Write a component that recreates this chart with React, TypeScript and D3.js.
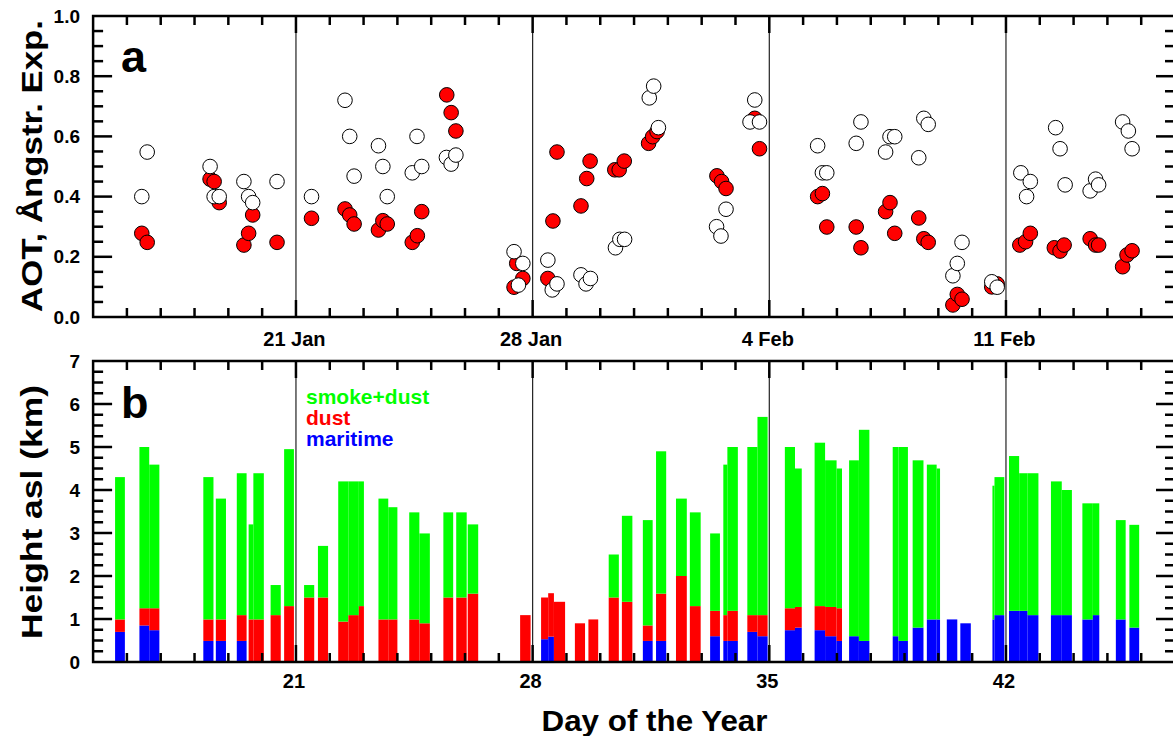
import React from "react";
import * as d3 from "d3";

// ---- Panel a: AOT (red filled) and Angstrom exponent (open) ----
const aotDays = [16.44,16.6,18.46,18.58,18.73,19.46,19.6,19.72,20.44,21.46,22.45,22.59,22.72,23.44,23.57,23.7,24.44,24.59,24.72,25.46,25.59,25.73,27.45,27.53,27.71,28.45,28.6,28.72,29.43,29.6,29.7,30.43,30.56,30.71,31.43,31.55,31.68,33.45,33.59,33.72,34.57,34.71,36.43,36.57,36.7,37.57,37.71,38.44,38.57,38.71,39.42,39.57,39.7,40.43,40.56,40.7,41.58,41.74,42.41,42.58,42.72,43.43,43.6,43.72,44.49,44.65,44.74,45.45,45.58,45.73];
const aotValues = [0.278,0.248,0.458,0.45,0.38,0.239,0.278,0.339,0.248,0.328,0.359,0.339,0.309,0.289,0.32,0.309,0.248,0.27,0.35,0.738,0.679,0.618,0.099,0.178,0.128,0.128,0.319,0.548,0.369,0.46,0.518,0.489,0.489,0.518,0.577,0.599,0.616,0.469,0.45,0.427,0.66,0.559,0.4,0.41,0.299,0.299,0.23,0.35,0.38,0.278,0.329,0.26,0.248,0.04,0.075,0.059,0.1,0.11,0.239,0.25,0.278,0.23,0.219,0.239,0.26,0.239,0.239,0.167,0.206,0.22];
const angDays = [16.44,16.6,18.46,18.58,18.73,19.46,19.6,19.72,20.44,21.46,22.45,22.59,22.72,23.44,23.57,23.7,24.44,24.58,24.72,25.45,25.59,25.73,27.45,27.58,27.71,28.45,28.58,28.72,29.43,29.58,29.71,30.45,30.58,30.72,31.45,31.58,31.72,33.44,33.57,33.72,34.43,34.57,34.71,36.43,36.57,36.7,37.57,37.71,38.44,38.57,38.71,39.42,39.57,39.7,40.43,40.56,40.7,41.58,41.74,42.44,42.61,42.72,43.47,43.6,43.75,44.49,44.65,44.74,45.45,45.62,45.73];
const angValues = [0.4,0.548,0.5,0.4,0.4,0.45,0.4,0.38,0.45,0.4,0.72,0.6,0.468,0.569,0.5,0.4,0.479,0.6,0.5,0.53,0.508,0.538,0.217,0.106,0.178,0.189,0.09,0.11,0.14,0.11,0.128,0.23,0.258,0.258,0.728,0.767,0.629,0.3,0.269,0.358,0.648,0.721,0.648,0.569,0.479,0.479,0.577,0.648,0.548,0.599,0.599,0.529,0.66,0.64,0.137,0.178,0.248,0.117,0.099,0.479,0.4,0.45,0.629,0.559,0.439,0.419,0.458,0.439,0.648,0.618,0.559];

// ---- Panel b: layer heights (km) per lidar profile interval ----
const barStart = [15.65,16.37,16.66,18.26,18.63,19.25,19.6,19.74,20.25,20.65,21.24,21.65,22.25,22.55,22.86,23.44,23.73,24.35,24.65,25.36,25.74,26.08,27.63,28.25,28.46,28.63,29.25,29.65,30.25,30.64,31.26,31.65,32.24,32.65,33.25,33.64,33.76,34.35,34.65,35.46,35.76,36.34,36.65,36.99,37.36,37.65,38.65,38.82,39.24,39.66,39.95,40.25,40.65,41.6,41.66,42.09,42.39,42.64,43.33,43.65,44.26,44.57,45.25,45.65];
const barEnd = [15.94,16.66,16.96,18.56,18.93,19.54,19.74,20.05,20.55,20.94,21.54,21.95,22.55,22.86,23.01,23.73,24.0,24.65,24.96,25.65,26.05,26.39,27.94,28.46,28.63,28.96,29.55,29.94,30.55,30.95,31.55,31.95,32.56,32.97,33.54,33.76,34.07,34.65,34.95,35.76,35.96,36.65,36.99,37.15,37.65,37.96,38.82,39.1,39.56,39.95,40.05,40.56,40.96,41.66,41.95,42.39,42.64,42.96,43.65,43.95,44.57,44.76,45.54,45.94];
const maritimeTop = [0.7,0.85,0.74,0.49,0.49,0.49,0,0,0,0,0,0,0,0,0,0,0,0,0,0,0,0,0,0.53,0.59,0,0,0,0,0,0.49,0.49,0,0,0.6,0.49,0.49,0.7,0.6,0.74,0.8,0.74,0.6,0.49,0.6,0.49,0.6,0.49,0.8,0.99,0.99,0.99,0.9,0.99,1.09,1.19,1.19,1.09,1.09,1.09,0.99,1.09,0.99,0.8];
const dustTop = [0.99,1.25,1.25,0.99,0.99,1.09,0.99,0.99,1.09,1.3,1.5,1.5,0.94,1.09,1.3,0.99,0.99,0.99,0.9,1.5,1.5,1.59,1.09,1.5,1.6,1.4,0.9,0.99,1.5,1.4,0.85,1.59,2.0,1.3,1.19,1.09,1.19,1.09,1.09,1.25,1.28,1.3,1.28,1.25,0.6,0.49,0.6,0.49,0.8,0.99,0.99,0.99,0.9,0.99,1.09,1.19,1.19,1.09,1.09,1.09,0.99,1.09,0.99,0.8];
const layerTop = [4.3,5.0,4.59,4.3,3.8,4.39,3.2,4.39,1.79,4.95,1.79,2.7,4.2,4.2,4.2,3.8,3.6,3.48,2.99,3.48,3.48,3.2,1.09,1.5,1.6,1.4,0.9,0.99,2.5,3.4,3.3,4.9,3.8,3.48,2.99,4.59,5.0,5.0,5.7,5.0,4.5,5.1,4.69,4.5,4.69,5.4,5.0,5.0,4.69,4.59,4.5,0.99,0.9,4.1,4.3,4.79,4.39,4.39,4.2,4.0,3.69,3.69,3.3,3.19];

const topTickDays = [21, 28, 35, 42];
const topTickLabels = ["21 Jan", "28 Jan", "4 Feb", "11 Feb"];
const bottomTickLabels = ["21", "28", "35", "42"];
const aotTicks = [0, 0.2, 0.4, 0.6, 0.8, 1.0];
const heightTicks = [0, 1, 2, 3, 4, 5, 6, 7];
const legendLabels = ["smoke+dust", "dust", "maritime"];
const legendColors = ["#00ff00", "#ff0000", "#0000ff"];

const W = 1173, H = 736;
const X0 = 93.1, X1 = 93.1 + 32 * 33.81;
const A_TOP = 16, A_BOT = 317;
const B_TOP = 361, B_BOT = 662;
const FONT = "'Liberation Sans', Arial, Helvetica, sans-serif";

export default function App() {
  const x = d3.scaleLinear().domain([15, 47]).range([X0, X1]);
  const ya = d3.scaleLinear().domain([0, 1]).range([A_BOT, A_TOP]);
  const yb = d3.scaleLinear().domain([0, 7]).range([B_BOT, B_TOP]);

  const dayTicks = d3.range(16, 47);
  const aMinor = d3.range(1, 20).map((i) => i * 0.05);
  const bMinor = d3.range(1, 28).map((i) => i * 0.25);

  const xTicks = (top: number, bot: number, key: string) =>
    dayTicks.map((d) => {
      const major = d % 7 === 0;
      const len = major ? 17 : 9;
      const px = x(d);
      return (
        <g key={key + d}>
          <line x1={px} x2={px} y1={top} y2={top + len} stroke="#000" strokeWidth={2.5} />
          <line x1={px} x2={px} y1={bot} y2={bot - len} stroke="#000" strokeWidth={2.5} />
        </g>
      );
    });

  const yTicks = (vals: number[], scale: any, isMajor: (v: number) => boolean, key: string) =>
    vals.map((v, i) => {
      const len = isMajor(v) ? 19 : 10;
      const py = scale(v);
      return (
        <g key={key + i}>
          <line x1={X0} x2={X0 + len} y1={py} y2={py} stroke="#000" strokeWidth={2.5} />
          <line x1={X1} x2={X1 - len} y1={py} y2={py} stroke="#000" strokeWidth={2.5} />
        </g>
      );
    });

  return (
    <div style={{ position: "absolute", left: 0, top: 0 }}>
      <svg width={W} height={H} style={{ display: "block" }} fontFamily={FONT}>
        <rect x={0} y={0} width={W} height={H} fill="#fff" />

        {/* ---------- Panel a ---------- */}
        {topTickDays.map((d) => (
          <line key={"va" + d} x1={x(d)} x2={x(d)} y1={A_TOP} y2={A_BOT} stroke="#222" strokeWidth={1.2} />
        ))}
        {aotDays.map((d, i) => (
          <circle key={"r" + i} cx={x(d)} cy={ya(aotValues[i])} r={7.3} fill="#ff0000" stroke="#000" strokeWidth={1} />
        ))}
        {angDays.map((d, i) => (
          <circle key={"w" + i} cx={x(d)} cy={ya(angValues[i])} r={7.3} fill="#fff" stroke="#000" strokeWidth={1} />
        ))}
        {xTicks(A_TOP, A_BOT, "ta")}
        {yTicks(aMinor, ya, (v) => Math.abs(v / 0.2 - Math.round(v / 0.2)) < 1e-6, "ya")}
        <rect x={X0} y={A_TOP} width={X1 - X0} height={A_BOT - A_TOP} fill="none" stroke="#000" strokeWidth={2.5} />
        {aotTicks.map((v) => (
          <text key={"al" + v} x={80} y={ya(v)} dy="0.35em" textAnchor="end" fontSize={19} fontWeight="bold">
            {v.toFixed(1)}
          </text>
        ))}
        {topTickDays.map((d, i) => (
          <text key={"tl" + d} x={x(d) - 1.5} y={346} textAnchor="middle" fontSize={20} fontWeight="bold">
            {topTickLabels[i]}
          </text>
        ))}
        <text x={121} y={72} fontSize={45} fontWeight="bold">a</text>
        <text transform="translate(42,166) rotate(-90)" textAnchor="middle" fontSize={30} fontWeight="bold"
          textLength={292} lengthAdjust="spacingAndGlyphs">
          AOT, Ångstr. Exp.
        </text>

        {/* ---------- Panel b ---------- */}
        {barStart.map((s, i) => {
          const bx = x(s);
          const bw = x(barEnd[i]) - x(s);
          return (
            <g key={"b" + i}>
              {maritimeTop[i] > 0 && (
                <rect x={bx} width={bw} y={yb(maritimeTop[i])} height={yb(0) - yb(maritimeTop[i])} fill="#0000ff" />
              )}
              {dustTop[i] > maritimeTop[i] && (
                <rect x={bx} width={bw} y={yb(dustTop[i])} height={yb(maritimeTop[i]) - yb(dustTop[i])} fill="#ff0000" />
              )}
              {layerTop[i] > dustTop[i] && (
                <rect x={bx} width={bw} y={yb(layerTop[i])} height={yb(dustTop[i]) - yb(layerTop[i])} fill="#00ff00" />
              )}
            </g>
          );
        })}
        {topTickDays.map((d) => (
          <line key={"vb" + d} x1={x(d)} x2={x(d)} y1={B_TOP} y2={B_BOT} stroke="#222" strokeWidth={1.2} />
        ))}
        {xTicks(B_TOP, B_BOT, "tb")}
        {yTicks(bMinor, yb, (v) => Math.abs(v - Math.round(v)) < 1e-6, "yb")}
        <rect x={X0} y={B_TOP} width={X1 - X0} height={B_BOT - B_TOP} fill="none" stroke="#000" strokeWidth={2.5} />
        {heightTicks.map((v) => (
          <text key={"hl" + v} x={80} y={yb(v)} dy="0.35em" textAnchor="end" fontSize={19} fontWeight="bold">
            {v}
          </text>
        ))}
        {topTickDays.map((d, i) => (
          <text key={"bl" + d} x={x(d) - 2} y={688} textAnchor="middle" fontSize={20} fontWeight="bold">
            {bottomTickLabels[i]}
          </text>
        ))}
        <text x={121} y={418} fontSize={45} fontWeight="bold">b</text>
        {legendLabels.map((l, i) => (
          <text key={l} x={306} y={404 + i * 21} fontSize={21} fontWeight="bold" fill={legendColors[i]}>
            {l}
          </text>
        ))}
        <text transform="translate(42,512) rotate(-90)" textAnchor="middle" fontSize={30} fontWeight="bold"
          textLength={254} lengthAdjust="spacingAndGlyphs">
          Height asl (km)
        </text>
        <text x={654.5} y={731} textAnchor="middle" fontSize={30} fontWeight="bold"
          textLength={226} lengthAdjust="spacingAndGlyphs">
          Day of the Year
        </text>
      </svg>
    </div>
  );
}
